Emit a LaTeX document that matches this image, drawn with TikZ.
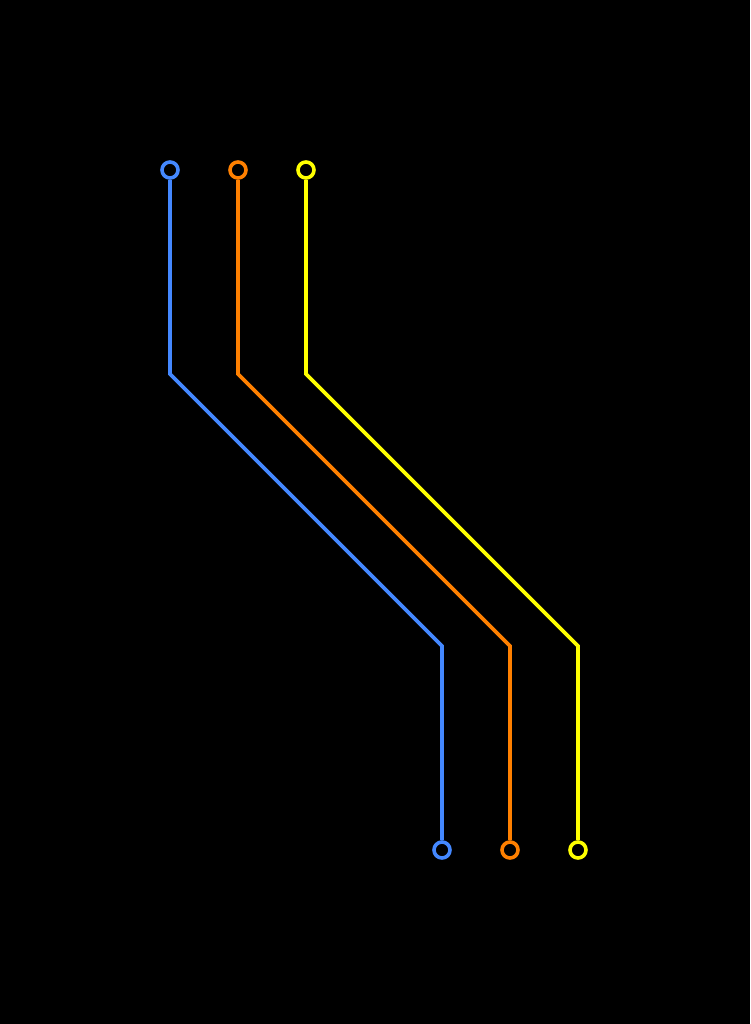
\documentclass[tikz,border=0pt]{standalone}
\usepackage{tikz}
\usetikzlibrary{positioning,calc}
\definecolor{wireblue}{RGB}{68,136,255}
\definecolor{wireorange}{RGB}{255,128,0}
\definecolor{wireyellow}{RGB}{255,255,0}
\tikzset{
  pin/.style={circle,draw=#1,fill=black,line width=3.6pt,minimum size=16pt,inner sep=0pt},
  wire/.style={#1,line width=3.6pt,line join=miter}
}
\begin{document}
\begin{tikzpicture}[x=1pt,y=-1pt]
  \fill[black] (0,0) rectangle (750,1024);
  \useasboundingbox (0,0) rectangle (750,1024);
  % end pins
  \node[pin=wireblue] (inA) at (170,170) {};
  \node[pin=wireorange] (inB) at (238,170) {};
  \node[pin=wireyellow] (inC) at (306,170) {};
  \node[pin=wireblue] (outA) at (442,850) {};
  \node[pin=wireorange] (outB) at (510,850) {};
  \node[pin=wireyellow] (outC) at (578,850) {};
  % bends
  \coordinate (bA) at (170,374); \coordinate (cA) at (442,646);
  \coordinate (bB) at (238,374); \coordinate (cB) at (510,646);
  \coordinate (bC) at (306,374); \coordinate (cC) at (578,646);
  % wires
  \draw[wire=wireblue] (inA) -- (bA) -- (cA) -- (outA);
  \draw[wire=wireorange] (inB) -- (bB) -- (cB) -- (outB);
  \draw[wire=wireyellow] (inC) -- (bC) -- (cC) -- (outC);
\end{tikzpicture}
\end{document}
